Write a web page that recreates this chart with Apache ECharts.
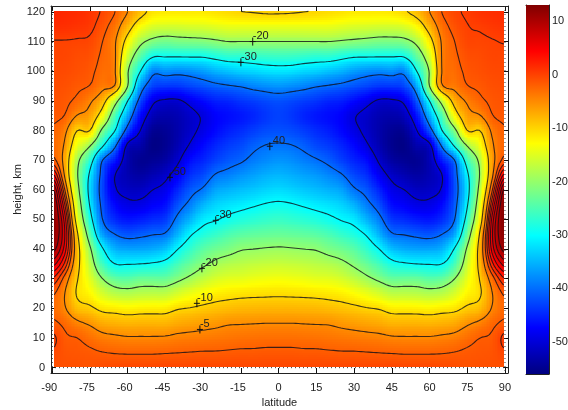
<!DOCTYPE html>
<html><head><meta charset="utf-8">
<style>html,body{margin:0;padding:0;background:#fff}#c{width:568px;height:410px}</style>
<script src="https://cdn.jsdelivr.net/npm/echarts@6/dist/echarts.min.js"></script>
</head><body><div id="c"></div>
<script>
const latitudes=[-90,-85,-80,-75,-70,-65,-60,-55,-50,-45,-40,-35,-30,-25,-20,-15,-10,-5,0,5,10,15,20,25,30,35,40,45,50,55,60,65,70,75,80,85,90];
const heights=[0,5,10,15,20,25,30,35,40,45,50,55,60,65,70,75,80,85,90,95,100,105,110,115,120];
// temperature, one column per latitude, bottom (0 km) to top (120 km)
const temperature=[
[-1,-0.3,0.6,-1.5,-2.5,-1.5,2,7,11,12.5,13,13,11,5,-1,-2.3,-2.1,-1.6,-1.2,-0.8,-0.5,-0.3,-0.1,1.3,2],
[-1,-1.2,-1.6,-2.6,-4.7,-5,-3,1.5,5,6,5,2,-2,-5.5,-6.5,-5.5,-4.2,-2.1,-1.5,-1,-0.6,-0.3,-0.1,1.2,1.7],
[-1,-1.4,-2,-4.3,-8.3,-10.5,-9.8,-8.5,-8,-9.5,-13,-15.5,-18,-19.7,-18.5,-14,-10,-5.2,-2.6,-1.6,-1,-0.7,-0.2,0.9,1.5],
[-1.2,-1.6,-3,-5.5,-9.3,-12.3,-14.5,-16.8,-19.2,-23.5,-27.5,-30.5,-32,-31,-27,-19.5,-10,-6.5,-4.5,-2.1,-1.5,-1,-0.4,0.5,1],
[-0.8,-1.9,-4,-7,-11,-15.5,-20,-25.5,-29.5,-36,-40,-41.5,-42.5,-42,-40,-29,-21.5,-13,-8,-4,-3,-2.5,-2,-1.2,-0.3],
[-0.6,-2.1,-4.4,-7.5,-11.5,-17.5,-23.3,-30,-35,-40,-44.5,-47,-49.5,-50,-46,-39,-30,-25,-17.5,-5.5,-4.8,-4.7,-4.7,-3.5,-2],
[-0.4,-2.2,-4.7,-7.8,-12,-18,-24,-30.2,-36,-41.5,-46,-49,-51.3,-52.5,-52.5,-51,-42.5,-36,-30,-20,-19.5,-16,-12,-8,-5],
[-0.4,-2.2,-4.7,-7.7,-11.7,-17.5,-23,-30,-36,-41,-45.5,-49,-51.5,-53.5,-54.7,-53,-50,-46.5,-42,-36.5,-29.8,-24,-18.5,-13,-8.5],
[-0.4,-2.2,-4.7,-7.7,-11.6,-17.3,-23,-29.5,-35.5,-40.2,-44.5,-47.7,-50,-52.5,-54.5,-55.5,-54.5,-52,-49,-43,-38.5,-29.5,-21.5,-15.5,-11],
[-0.3,-2.1,-4.6,-7.7,-11.5,-17.2,-23,-28.5,-34,-39.5,-43.5,-46.5,-48.7,-51,-53.5,-54.8,-54.5,-53,-50.5,-44,-38,-29.7,-22.5,-16,-11.5],
[-0.4,-2,-4.2,-7,-10.3,-15.5,-21,-25.5,-30,-35,-38.7,-42,-45,-48,-50.6,-52.5,-53,-52.5,-50.5,-44,-38.5,-29.7,-22,-16,-11.5],
[-0.4,-1.9,-4,-6.6,-9.8,-14,-19,-23,-26.7,-30.5,-35,-38.7,-41.5,-44.3,-46.7,-49.5,-51,-51,-48.7,-43,-38,-29.6,-21.8,-15.7,-11.5],
[-0.4,-1.8,-3.8,-6.2,-9.2,-12.8,-17,-20.8,-24,-28,-31.5,-35.2,-39.4,-42.5,-45,-47,-49,-49.5,-47,-42,-37,-29.5,-21.5,-15.5,-11.5],
[-0.4,-1.8,-3.6,-5.8,-8.7,-11.8,-15.5,-19,-22.5,-26.5,-30.3,-33,-36.3,-39.7,-43,-45,-47,-47.5,-45.5,-41,-35.5,-28.5,-20.8,-15,-11],
[-0.4,-1.7,-3.4,-5.3,-8.3,-11.3,-14.7,-18,-21.5,-25,-29,-32,-35.3,-38.7,-41.5,-43.5,-45.5,-46.7,-45,-40.3,-34.5,-27.5,-20,-14.5,-10.5],
[-0.4,-1.6,-3.2,-5.2,-8,-11,-14.5,-17.5,-20.3,-24,-28,-31.3,-34.5,-37.5,-40.5,-42.5,-44.5,-46,-44,-39.7,-33.5,-27.5,-20,-14.5,-10],
[-0.4,-1.6,-3.1,-5.1,-7.9,-10.8,-14,-17,-20,-23.5,-27.3,-30.5,-33.8,-36.5,-39,-40.9,-43.3,-45,-43.3,-38.7,-33,-27,-20,-14.5,-9.8],
[-0.4,-1.5,-3,-5,-7.8,-10.7,-13.7,-16.7,-19.7,-23.2,-26.7,-29.7,-33,-35.5,-38,-39.9,-42.3,-43.8,-42.5,-38,-32.3,-26.7,-20,-14.5,-9.6],
[-0.4,-1.5,-3,-5,-7.8,-10.6,-13.5,-16.5,-19.5,-23,-26.3,-29.3,-32.5,-35,-37.3,-39.6,-42,-43,-42,-37.5,-32,-26.5,-20,-14.5,-9.6],
[-0.4,-1.5,-3,-5,-7.8,-10.7,-13.7,-16.7,-19.7,-23.2,-26.7,-29.7,-33,-35.5,-37.7,-39.9,-42.3,-43.7,-42.5,-38,-32.2,-26.6,-20,-14.5,-9.7],
[-0.4,-1.6,-3.1,-5.1,-7.9,-10.8,-14,-17,-20,-23.5,-27.3,-30.5,-33.8,-36.3,-38.7,-40.9,-43.3,-45,-43.3,-38.7,-33,-27,-20,-14.5,-9.9],
[-0.4,-1.6,-3.2,-5.2,-8,-11,-14.5,-17.5,-20.3,-24,-28,-31.3,-34.5,-37,-39.7,-42.5,-44.5,-46,-44,-39.7,-33.5,-27.5,-20,-14.5,-10.2],
[-0.4,-1.7,-3.4,-5.3,-8.3,-11.3,-14.7,-18,-21.5,-25,-29,-32,-35.3,-38.2,-41,-43.5,-45.5,-46.7,-45,-40.3,-34.5,-27.5,-20,-14.5,-10.6],
[-0.4,-1.8,-3.6,-5.8,-8.7,-11.8,-15.5,-19,-22.5,-26.5,-30.3,-33,-36.3,-39.7,-43,-45,-47,-47.5,-45.5,-41,-35.5,-28.5,-20.5,-15,-11],
[-0.4,-1.8,-3.8,-6.2,-9.2,-12.8,-17,-20.8,-24,-28,-31.5,-35.2,-39.4,-42.5,-45,-47,-49,-49.7,-47,-42,-37,-29.5,-21,-15.5,-11.5],
[-0.4,-1.9,-4,-6.6,-9.8,-14,-19,-23,-26.7,-30.5,-35,-38.7,-41.5,-44.3,-46.7,-49.5,-51,-51,-48.7,-43,-38,-29.6,-21.5,-15.7,-11.5],
[-0.4,-2,-4.2,-7,-10.3,-15.5,-21,-25.5,-30,-35,-38.7,-42,-45,-48,-50.6,-52.5,-53,-52.5,-50.5,-44,-38.5,-29.7,-22,-16,-11.5],
[-0.3,-2.1,-4.6,-7.7,-11.5,-17.2,-23,-28.5,-34,-39.5,-43.5,-46.5,-48.7,-51,-53.5,-54.8,-54.5,-53,-50.5,-44,-38,-29.7,-22,-16,-11.3],
[-0.4,-2.2,-4.7,-7.7,-11.6,-17.3,-23,-29.5,-35.5,-40.2,-44.5,-47.7,-50,-52.5,-54.5,-55.5,-54.5,-52,-49,-43,-38.5,-29.5,-21.5,-15.5,-10.3],
[-0.4,-2.2,-4.7,-7.7,-11.7,-17.5,-23,-30,-36,-41,-45.5,-49,-51.5,-53.5,-54.7,-53,-50,-46.5,-42,-36.5,-29.8,-24,-18.5,-13,-8.5],
[-0.4,-2.2,-4.7,-7.8,-12,-18,-24,-30.2,-36,-41.5,-46,-49,-51.3,-52.5,-52.5,-51,-42.5,-36,-30,-20,-19.5,-16,-12,-8,-5],
[-0.6,-2.1,-4.4,-7.5,-11.5,-17.5,-23.3,-30,-35,-40,-44.5,-47,-49.5,-50,-46,-39,-30,-25,-17.5,-5.5,-4.8,-4.7,-4.5,-3.3,-1.9],
[-0.8,-1.9,-4,-7,-11,-15.5,-20,-25.5,-29.5,-36,-40,-41.5,-42.5,-42,-40,-29,-21.5,-13,-8,-4,-3,-2.5,-2,-1.2,-0.4],
[-1.2,-1.6,-3,-5.5,-9.3,-12.3,-14.5,-16.8,-19.2,-23.5,-27.5,-30.5,-32,-31,-27,-19.5,-10,-6.5,-4.5,-2.1,-1.5,-1,-0.4,-0.1,0.3],
[-1,-1.4,-2,-4.3,-8.3,-10.5,-9.8,-8.5,-8,-9.5,-13,-15.5,-18,-19.7,-18.5,-14,-10,-5.2,-2.6,-1.6,-1,-0.7,-0.3,0.2,1],
[-1,-1.2,-1.6,-2.6,-4.7,-5,-3,1.5,5,6,5,2,-2,-5.5,-6.5,-5.5,-4.2,-2.1,-1.5,-1,-0.6,-0.3,-0.1,0.6,1.3],
[-1,-0.3,0.6,-1.5,-2.5,-1.5,2,7,11,12.5,13,13,11,5,-1,-2.3,-2.1,-1.6,-1.2,-0.8,-0.5,-0.3,0.1,0.9,1.5]
];
const contourLevels=[-50,-40,-30,-20,-10,-5,-2,0,2,4,6,8,10];
const contourLabels=[['-20',-10.3,110],['-30',-15,103],['40',-3.5,74.7],['-50',-43.2,64.2],['-30',-25,49.7],['-20',-30.5,33.5],['-10',-32.5,21.7],['-5',-31.3,12.9]];
const latTicks=[-90,-75,-60,-45,-30,-15,0,15,30,45,60,75,90];
const heightTicks=[0,10,20,30,40,50,60,70,80,90,100,110,120];
const colorTicks=[-50,-40,-30,-20,-10,0,10];
const colorMin=-56,colorMax=13;
const imgLat=[-89.2,89.5],imgH=[0.3,120.2];

const clamp=v=>Math.max(0,Math.min(1,v));
function jet(v){const t=clamp((v-colorMin)/(colorMax-colorMin));
 const r=clamp(Math.min(4*t-1.5,-4*t+4.5)),g=clamp(Math.min(4*t-.5,-4*t+3.5)),b=clamp(Math.min(4*t+.5,-4*t+2.5));
 return 'rgb('+Math.round(r*255)+','+Math.round(g*255)+','+Math.round(b*255)+')';}
const nc=latitudes.length,nr=heights.length;
function cr(p0,p1,p2,p3,t){return .5*(2*p1+(p2-p0)*t+(2*p0-5*p1+4*p2-p3)*t*t+(3*p1-p0-3*p2+p3)*t*t*t);}
function field(lat,h){
 const u=Math.max(0,Math.min(nc-1.0001,(lat-latitudes[0])/5)),w=Math.max(0,Math.min(nr-1.0001,(h-heights[0])/5));
 const i=Math.floor(u),j=Math.floor(w),tu=u-i,tw=w-j,col=[];
 for(let a=-1;a<=2;a++){const c=temperature[Math.max(0,Math.min(nc-1,i+a))];
  col.push(cr(c[Math.max(0,j-1)],c[j],c[Math.min(nr-1,j+1)],c[Math.min(nr-1,j+2)],tw));}
 return cr(col[0],col[1],col[2],col[3],tu);
}
// surface: each read cell is shaded across its width and height
const cells=[];
for(let i=0;i<nc-1;i++)for(let j=0;j<nr-1;j++)cells.push([latitudes[i],heights[j],temperature[i][j]]);
const SUB=8;
function renderCell(params,api){
 const lat0=api.value(0),h0=api.value(1),children=[];
 for(let a=0;a<SUB;a++)for(let b=0;b<SUB;b++){
  let la=lat0+5*a/SUB,lb=lat0+5*(a+1)/SUB,ha=h0+5*b/SUB,hb=h0+5*(b+1)/SUB;
  la=Math.max(la,imgLat[0]);lb=Math.min(lb,imgLat[1]);ha=Math.max(ha,imgH[0]);hb=Math.min(hb,imgH[1]);
  if(lb<=la||hb<=ha)continue;
  const p=api.coord([la,hb]),q=api.coord([lb,ha]);
  const x=Math.floor(p[0]),y=Math.floor(p[1]);
  children.push({type:'rect',shape:{x:x,y:y,width:Math.ceil(q[0])-x,height:Math.ceil(q[1])-y},
   style:{fill:jet(field((la+lb)/2,(ha+hb)/2))},silent:true});
 }
 return {type:'group',children:children};
}
// contour lines by marching squares over the surface
const nodeLat=[],nodeH=[];
for(let l=imgLat[0];l<imgLat[1];l+=1)nodeLat.push(l);nodeLat.push(imgLat[1]);
for(let h=imgH[0];h<imgH[1];h+=1)nodeH.push(h);nodeH.push(imgH[1]);
const F=nodeLat.map(l=>nodeH.map(h=>field(l,h)));
function tracer(level){
 const segs=[],pt={};
 const key=(i,j,d)=>i+'_'+j+'_'+d;
 const edgePt=(i,j,d)=>{const k=key(i,j,d);if(pt[k])return k;
  const a=F[i][j],b=d?F[i][j+1]:F[i+1][j],t=(level-a)/(b-a);
  pt[k]=d?[nodeLat[i],nodeH[j]+t*(nodeH[j+1]-nodeH[j])]:[nodeLat[i]+t*(nodeLat[i+1]-nodeLat[i]),nodeH[j]];return k;};
 for(let i=0;i<nodeLat.length-1;i++)for(let j=0;j<nodeH.length-1;j++){
  const s=[F[i][j]>level,F[i+1][j]>level,F[i+1][j+1]>level,F[i][j+1]>level];
  const e=[];
  if(s[0]!==s[1])e.push(edgePt(i,j,0));
  if(s[1]!==s[2])e.push(edgePt(i+1,j,1));
  if(s[3]!==s[2])e.push(edgePt(i,j+1,0));
  if(s[0]!==s[3])e.push(edgePt(i,j,1));
  if(e.length===2)segs.push([e[0],e[1]]);
  else if(e.length===4){segs.push([e[0],e[3]]);segs.push([e[1],e[2]]);}
 }
 const adj={};segs.forEach((s,n)=>{(adj[s[0]]=adj[s[0]]||[]).push(n);(adj[s[1]]=adj[s[1]]||[]).push(n);});
 const used=new Array(segs.length).fill(false),lines=[];
 const walk=(n0,start)=>{const path=[start];let k=start,n=n0;
  while(n!==undefined&&!used[n]){used[n]=true;const s=segs[n];k=s[0]===k?s[1]:s[0];path.push(k);
   n=(adj[k]||[]).find(m=>!used[m]);}
  return path;};
 Object.keys(adj).filter(k=>adj[k].length===1).forEach(k=>{if(!used[adj[k][0]])lines.push(walk(adj[k][0],k));});
 segs.forEach((s,n)=>{if(!used[n])lines.push(walk(n,s[0]));});
 return lines.map(p=>p.map(k=>pt[k]));
}
function renderContour(params,api){
 const lines=tracer(api.value(0));
 return {type:'group',children:lines.map(l=>({type:'polyline',shape:{points:l.map(p=>api.coord(p))},
  style:{fill:null,stroke:'rgba(15,15,25,0.8)',lineWidth:1.1},silent:true}))};
}
function renderLabel(params,api){
 const item=contourLabels[params.dataIndex];
 const p=api.coord([item[1],item[2]]);
 return {type:'group',children:[
  {type:'line',shape:{x1:p[0]-3,y1:p[1],x2:p[0]+3,y2:p[1]},style:{stroke:'#111',lineWidth:1}},
  {type:'line',shape:{x1:p[0],y1:p[1]-4,x2:p[0],y2:p[1]+4},style:{stroke:'#111',lineWidth:1}},
  {type:'text',x:p[0]+(item[0][0]==='-'?0:3),y:p[1]-11,style:{text:item[0],fill:'#222',font:'11px "Liberation Sans"',textVerticalAlign:'top'}}
 ]};
}
function renderEdges(params,api){
 const dots=(a,b)=>({type:'line',shape:{x1:a[0],y1:a[1],x2:b[0],y2:b[1]},style:{stroke:'#333',lineWidth:1,lineDash:[1,3]}});
 return {type:'group',children:[
  dots(api.coord([-90,122]),api.coord([-90,-1.8])),
  dots(api.coord([90,122]),api.coord([90,-1.8])),
  dots(api.coord([-90.5,0]),api.coord([91.2,0]))
 ]};
}
function renderBar(params,api){
 const p=api.coord([0,colorMax]),q=api.coord([1,colorMin]),stops=[];
 for(let k=0;k<=64;k++)stops.push({offset:k/64,color:jet(colorMax-(colorMax-colorMin)*k/64)});
 return {type:'rect',shape:{x:p[0],y:p[1],width:q[0]-p[0],height:q[1]-p[1]},
  style:{fill:{type:'linear',x:0,y:0,x2:0,y2:1,colorStops:stops}}};
}
const ink='#222';
const tick={show:true,inside:true,length:5,lineStyle:{color:'#111',width:1}};
const frame={show:true,onZero:false,lineStyle:{color:'#222',width:1}};
const label={color:ink,fontFamily:'"Liberation Sans"',fontSize:11};
const option={animation:false,backgroundColor:'#fff',
 grid:[{left:51,top:6,width:457,height:367,outerBoundsMode:'none'},{left:526,top:5,width:23,height:369,outerBoundsMode:'none'}],
 xAxis:[
  {type:'value',gridIndex:0,min:-90.5,max:91.2,position:'bottom',axisLine:frame,splitLine:{show:false},
   axisTick:Object.assign({customValues:latTicks},tick),
   axisLabel:Object.assign({customValues:latTicks,margin:9,formatter:v=>v<0?v+'  ':String(v)},label),
   name:'latitude',nameLocation:'middle',nameGap:24,nameMoveOverlap:false,nameTextStyle:label},
  {type:'value',gridIndex:0,min:-90.5,max:91.2,position:'top',axisLine:frame,splitLine:{show:false},
   axisTick:Object.assign({customValues:latTicks},tick),axisLabel:{show:false}},
  {type:'value',gridIndex:1,min:0,max:1,position:'bottom',axisLine:frame,splitLine:{show:false},axisTick:{show:false},axisLabel:{show:false}},
  {type:'value',gridIndex:1,min:0,max:1,position:'top',axisLine:frame,splitLine:{show:false},axisTick:{show:false},axisLabel:{show:false}}
 ],
 yAxis:[
  {type:'value',gridIndex:0,min:-1.8,max:122,position:'left',axisLine:frame,splitLine:{show:false},
   axisTick:Object.assign({customValues:heightTicks},tick),
   axisLabel:Object.assign({customValues:heightTicks,margin:6,formatter:v=>String(v)},label),
   name:'height, km',nameLocation:'middle',nameGap:28,nameMoveOverlap:false,nameTextStyle:label},
  {type:'value',gridIndex:0,min:-1.8,max:122,position:'right',axisLine:frame,splitLine:{show:false},
   axisTick:Object.assign({customValues:heightTicks},tick),axisLabel:{show:false}},
  {type:'value',gridIndex:1,min:colorMin,max:colorMax,position:'right',axisLine:frame,splitLine:{show:false},
   axisTick:Object.assign({customValues:colorTicks},tick,{length:3}),
   axisLabel:Object.assign({customValues:colorTicks,margin:3,formatter:v=>String(v)},label)},
  {type:'value',gridIndex:1,min:colorMin,max:colorMax,position:'left',axisLine:frame,splitLine:{show:false},
   axisTick:Object.assign({customValues:colorTicks},tick,{length:3}),axisLabel:{show:false}}
 ],
 series:[
  {name:'temperature',type:'custom',xAxisIndex:0,yAxisIndex:0,silent:true,clip:false,data:cells,progressive:0,renderItem:renderCell,z:1},
  {name:'edges',type:'custom',xAxisIndex:0,yAxisIndex:0,silent:true,data:[[0]],renderItem:renderEdges,z:2},
  {name:'contours',type:'custom',xAxisIndex:0,yAxisIndex:0,silent:true,data:contourLevels.map(v=>[v]),encode:{x:[],y:[]},renderItem:renderContour,z:3},
  {name:'labels',type:'custom',xAxisIndex:0,yAxisIndex:0,silent:true,data:contourLabels.map(l=>[l[1],l[2]]),renderItem:renderLabel,z:4},
  {name:'colorbar',type:'custom',xAxisIndex:2,yAxisIndex:2,silent:true,data:[[0]],encode:{x:[],y:[]},renderItem:renderBar,z:1}
 ]};
echarts.init(document.getElementById('c'),null,{renderer:'canvas'}).setOption(option);
</script></body></html>
